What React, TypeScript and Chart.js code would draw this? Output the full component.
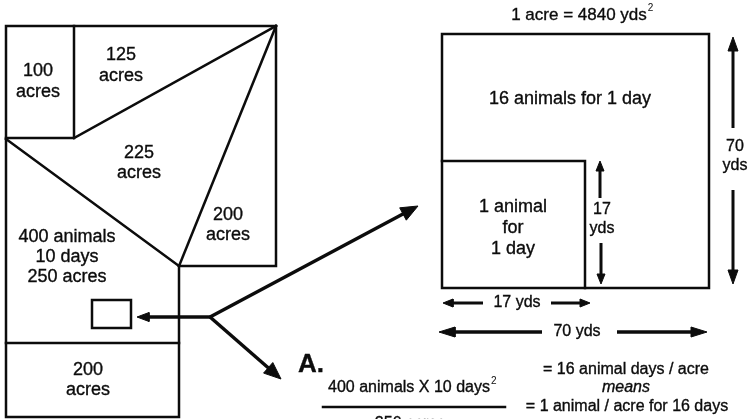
import React, { useEffect, useRef } from "react";
import { Chart, registerables } from "chart.js";

Chart.register(...registerables);

type P = [number, number];

// Outlines of the fields (left) and the acre square (right), in picture units
const fieldOutline: P[] = [[6, 26], [276, 26], [276, 266], [179, 266], [179, 417], [6, 417], [6, 26]];
const field100: P[] = [[74, 26], [74, 138], [6, 138]];
const field125Edge: P[] = [[74, 138], [276, 26]];
const field250Edge: P[] = [[6, 139], [179, 266]];
const field200Edge: P[] = [[276, 26], [179, 266]];
const fieldBottomEdge: P[] = [[6, 343], [179, 343]];
const sampleRect: P[] = [[92, 300], [131, 300], [131, 328], [92, 328], [92, 300]];
const acreSquare: P[] = [[442, 34], [709, 34], [709, 288], [442, 288], [442, 34]];
const animalSquare: P[] = [[442, 161], [585, 161], [585, 288]];
const fractionBar: P[] = [[323, 407], [505, 407]];

// Arrows: tail, tip, line width, head length, head half-width
const arrowTails: P[] = [[210, 317], [210, 317], [210, 317], [600, 198], [601, 243], [733, 128], [733, 190], [483, 303], [551, 303], [542, 332], [617, 332]];
const arrowTips: P[] = [[137, 317], [418, 206], [281, 379], [600, 161], [601, 284], [733, 37], [733, 284], [443, 303], [590, 303], [439, 332], [707, 332]];
const arrowWidths = [3.5, 3.5, 3.5, 3, 3, 3, 3, 3, 3, 3.5, 3.5];
const arrowHeadLen = [12, 17, 17, 10, 10, 14, 14, 10, 10, 16, 16];
const arrowHeadHalf = [4.5, 7, 7, 4, 4, 5, 5, 4, 4, 5, 5];

// Labels
const labelTexts = [
  "100", "acres", "125", "acres", "225", "acres", "200", "acres",
  "400 animals", "10 days", "250 acres", "200", "acres",
  "1 acre = 4840 yds", "16 animals for 1 day", "1 animal", "for", "1 day",
  "17", "yds", "70", "yds", "17 yds", "70 yds",
  "A.", "400 animals X 10 days", "250 acres",
  "= 16 animal days / acre", "means", "= 1 animal / acre for 16 days",
];
const labelX = [38, 38, 121, 121, 139, 139, 228, 228, 67, 67, 67, 88, 88, 579, 570, 513, 513, 513, 602, 602, 735, 735, 517, 577, 311, 409, 410, 626, 626, 627];
const labelY = [71, 92, 55, 76, 153, 173, 215, 235, 237, 257, 277, 370, 390, 15, 99, 207, 228, 249, 210, 229, 147, 166, 303, 332, 365, 388, 424, 370, 388, 407];
const labelSize = [18, 18, 18, 18, 18, 18, 18, 18, 18, 18, 18, 18, 18, 17, 18, 18, 18, 18, 16, 16, 16, 16, 16, 16, 26, 16, 16, 16, 16, 16];
const labelStyle = ["", "", "", "", "", "", "", "", "", "", "", "", "", "", "", "", "", "", "", "", "", "", "", "", "bold", "", "", "", "italic", ""];
const labelSup = ["", "", "", "", "", "", "", "", "", "", "", "", "", "2", "", "", "", "", "", "", "", "", "", "", "", "2", "", "", "", ""];

const FONT = '"Liberation Sans", Arial, Helvetica, sans-serif';
const INK = "#0c0c0c";

function toData(pts: P[]) {
  return pts.map(([x, y]) => ({ x, y }));
}

function arrowParts(i: number) {
  const [tx, ty] = arrowTails[i];
  const [hx, hy] = arrowTips[i];
  const dx = hx - tx;
  const dy = hy - ty;
  const len = Math.hypot(dx, dy);
  const ux = dx / len;
  const uy = dy / len;
  const L = arrowHeadLen[i];
  const W = arrowHeadHalf[i];
  const bx = hx - ux * L;
  const by = hy - uy * L;
  const shaftEnd: P = [hx - ux * L * 0.6, hy - uy * L * 0.6];
  const head: P[] = [
    [hx, hy],
    [bx - uy * W, by + ux * W],
    [bx + uy * W, by - ux * W],
    [hx, hy],
  ];
  return { shaft: [[tx, ty], shaftEnd] as P[], head };
}

const labelPlugin = {
  id: "diagramLabels",
  afterDatasetsDraw(chart: any) {
    const { ctx, scales } = chart;
    const xs = scales.x;
    const ys = scales.y;
    ctx.save();
    ctx.fillStyle = INK;
    ctx.strokeStyle = INK;
    ctx.lineWidth = 0.35;
    ctx.textAlign = "center";
    ctx.textBaseline = "middle";
    labelTexts.forEach((t, i) => {
      const px = xs.getPixelForValue(labelX[i]);
      const py = ys.getPixelForValue(labelY[i]);
      const st = labelStyle[i];
      ctx.font = `${st ? st + " " : ""}${labelSize[i]}px ${FONT}`;
      ctx.fillText(t, px, py);
      ctx.strokeText(t, px, py);
      if (labelSup[i]) {
        const w = ctx.measureText(t).width;
        ctx.font = `${Math.round(labelSize[i] * 0.6)}px ${FONT}`;
        ctx.textAlign = "left";
        ctx.fillText(labelSup[i], px + w / 2 + 1, py - labelSize[i] * 0.4);
        ctx.textAlign = "center";
      }
    });
    ctx.restore();
  },
};

export default function App() {
  const ref = useRef<HTMLCanvasElement | null>(null);

  useEffect(() => {
    if (!ref.current) return;
    const lineSet = (pts: P[], w = 2.5) => ({
      data: toData(pts),
      borderColor: INK,
      borderWidth: w,
      pointRadius: 0,
      fill: false,
      tension: 0,
      borderCapStyle: "square",
      borderJoinStyle: "miter",
    });
    const datasets: any[] = [
      lineSet(fieldOutline),
      lineSet(field100),
      lineSet(field125Edge),
      lineSet(field250Edge),
      lineSet(field200Edge),
      lineSet(fieldBottomEdge),
      lineSet(sampleRect),
      lineSet(acreSquare),
      lineSet(animalSquare),
      lineSet(fractionBar, 2.5),
    ];
    arrowTails.forEach((_, i) => {
      const { shaft, head } = arrowParts(i);
      datasets.push({ ...lineSet(shaft, arrowWidths[i]), borderCapStyle: "butt" });
      datasets.push({
        data: toData(head),
        borderColor: INK,
        borderWidth: 1,
        backgroundColor: INK,
        pointRadius: 0,
        fill: "shape",
        tension: 0,
      });
    });

    const chart = new Chart(ref.current, {
      type: "line",
      data: { datasets },
      options: {
        animation: false,
        responsive: false,
        maintainAspectRatio: false,
        layout: { padding: 0 },
        parsing: false as any,
        plugins: { legend: { display: false }, tooltip: { enabled: false } },
        scales: {
          x: { type: "linear", min: 0, max: 751, display: false },
          y: { type: "linear", min: 0, max: 419, reverse: true, display: false },
        },
      },
      plugins: [labelPlugin],
    });
    return () => chart.destroy();
  }, []);

  return (
    <div style={{ position: "fixed", left: 0, top: 0, width: 751, height: 419, background: "#fff" }}>
      <canvas ref={ref} width={751} height={419} style={{ width: 751, height: 419, display: "block" }} />
    </div>
  );
}
